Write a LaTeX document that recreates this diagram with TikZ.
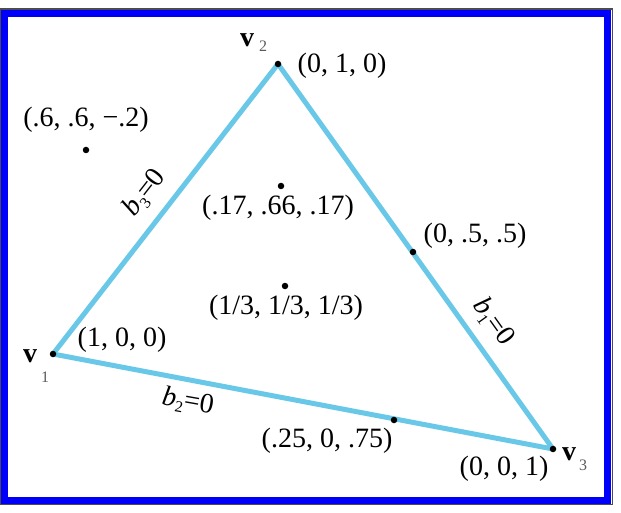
\documentclass[tikz,border=0pt]{standalone}
\usepackage{fontspec}
\setmainfont{Liberation Serif}
\definecolor{edgeblue}{RGB}{105,200,232}
\definecolor{framblue}{RGB}{0,0,250}
\definecolor{subgray}{RGB}{90,90,90}
\tikzset{
  edge/.style={draw=edgeblue, line width=5pt, line cap=round, line join=round},
  dot/.style={circle, fill=black, minimum size=6.5pt, inner sep=0pt},
  lab/.style={inner sep=0pt, font=\fontsize{28}{32}\selectfont},
  vlab/.style={inner sep=0pt, anchor=base west, font=\fontsize{28}{32}\selectfont},
}
\newcommand{\vsub}[3]{\textbf{v}\kern#3pt\raisebox{-#2pt}{\fontsize{16}{16}\selectfont\color{subgray}#1}}
\newcommand{\bsub}[1]{\textit{b}\raisebox{-5pt}{\fontsize{16}{16}\selectfont #1}=0}
\begin{document}
\begin{tikzpicture}[x=1pt, y=-1pt]
\useasboundingbox (0,0) rectangle (621,513);
% frame
\draw[line width=1.3pt, gray!60!black] (0.6,9) rectangle (612.8,504.6);
\draw[line width=7pt, framblue] (4.5,13.5) rectangle (607.5,500);
% vertices
\coordinate (V1) at (53,354);
\coordinate (V2) at (278,64);
\coordinate (V3) at (553,449);
\draw[edge] (V1) -- (V2) -- (V3) -- cycle;
\node[dot] (d1) at (V1) {};
\node[dot] (d2) at (V2) {};
\node[dot] (d3) at (V3) {};
\node[dot] (p1) at (86,150) {};
\node[dot] (p2) at (281,186) {};
\node[dot] (p3) at (285,286) {};
\node[dot] (p4) at (413,252) {};
\node[dot] (p5) at (394,420) {};
% coordinate labels
\node[lab] (l2) at (342,66) {(0, 1, 0)};
\node[lab] (l1) at (122,340) {(1, 0, 0)};
\node[lab] (l3) at (504,469) {(0, 0, 1)};
\node[lab] (lp1) at (86,120) {(.6, .6, \textminus.2)};
\node[lab] (lp2) at (278,208) {(.17, .66, .17)};
\node[lab] (lp3) at (286,308) {(1/3, 1/3, 1/3)};
\node[lab] (lp4) at (475,236) {(0, .5, .5)};
\node[lab] (lp5) at (327,441) {(.25, 0, .75)};
% vertex names
\node[vlab] (n2) at (240,47) {\vsub{2}{5}{5}};
\node[vlab] (n1) at (23,362) {\vsub{1}{20}{4}};
\node[vlab] (n3) at (562,460) {\vsub{3}{10}{3}};
% edge equations
\node[lab, rotate=52] (b3) at (145,193) {\bsub{3}};
\node[lab, rotate=-54.5] (b1) at (493,322) {\bsub{1}};
\node[lab, rotate=-10] (b2) at (188,402) {\bsub{2}};
\end{tikzpicture}
\end{document}
